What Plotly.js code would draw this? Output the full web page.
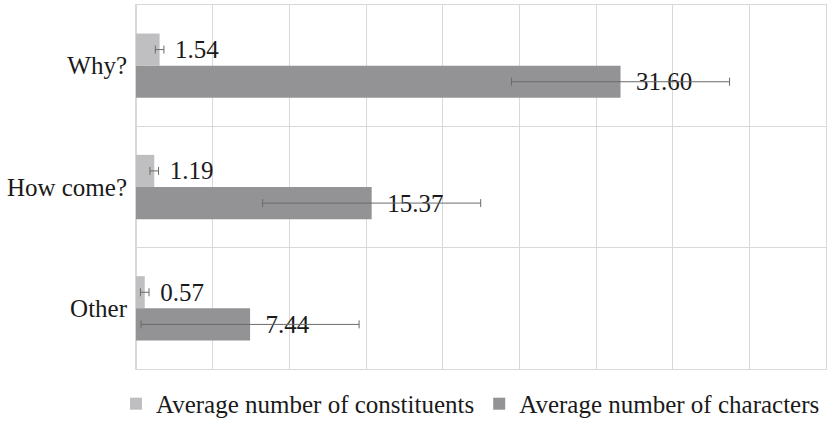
<!DOCTYPE html>
<html>
<head>
<meta charset="utf-8">
<script src="https://cdn.plot.ly/plotly-3.0.1.min.js"></script>
<style>
  html, body { margin: 0; padding: 0; background: #ffffff; }
  #chart { width: 835px; height: 425px; }
</style>
</head>
<body>
<div id="chart"></div>
<script>
var categories = ["Why?", "How come?", "Other"];
var constituents = [1.54, 1.19, 0.57];
var constituentsErr = [0.28, 0.28, 0.28];
var characters = [31.60, 15.37, 7.44];
var charactersErr = [7.11, 7.11, 7.11];
var seriesNames = ["Average number of constituents", "Average number of characters"];

function labels(vals) {
  return vals.map(function (v) { return "\u00A0\u00A0" + v.toFixed(2); });
}

var font = "Liberation Serif";

var traces = [
  {
    type: "bar", orientation: "h", name: seriesNames[0],
    y: categories, x: constituents,
    marker: { color: "#bfbfc1" },
    text: labels(constituents), textposition: "outside", constraintext: "none",
    cliponaxis: false,
    textfont: { family: font, size: 25, color: "#1a1a1a" },
    error_x: { type: "data", array: constituentsErr, visible: true, color: "#6b6b6b", thickness: 1, width: 4 },
    hoverinfo: "none"
  },
  {
    type: "bar", orientation: "h", name: seriesNames[1],
    y: categories, x: characters,
    marker: { color: "#939396" },
    text: labels(characters), textposition: "outside", constraintext: "none",
    cliponaxis: false,
    textfont: { family: font, size: 25, color: "#1a1a1a" },
    error_x: { type: "data", array: charactersErr, visible: true, color: "#6b6b6b", thickness: 1, width: 4 },
    hoverinfo: "none"
  }
];

var layout = {
  width: 835, height: 425,
  margin: { l: 136, r: 9, t: 5, b: 56, autoexpand: false },
  paper_bgcolor: "#ffffff", plot_bgcolor: "#ffffff",
  font: { family: font, size: 25, color: "#1a1a1a" },
  barmode: "group", bargap: 0.47, bargroupgap: 0,
  showlegend: true,
  legend: {
    orientation: "h", x: -0.029, xanchor: "left", y: -0.096, yanchor: "middle",
    font: { family: font, size: 25, color: "#1a1a1a" },
    itemwidth: 30, traceorder: "normal", itemclick: false
  },
  xaxis: {
    range: [0, 45], dtick: 5, showticklabels: false,
    showgrid: true, gridcolor: "#d9d9d9", gridwidth: 1,
    zeroline: true, zerolinecolor: "#d9d9d9", zerolinewidth: 1,
    showline: true, linecolor: "#d9d9d9", mirror: true, ticks: ""
  },
  yaxis: {
    type: "category", autorange: "reversed",
    tickson: "boundaries", showgrid: true, gridcolor: "#d9d9d9", gridwidth: 1,
    showline: true, linecolor: "#d9d9d9", mirror: true,
    ticks: "", ticklabelstandoff: 3,
    tickfont: { family: font, size: 25, color: "#1a1a1a" }
  }
};

Plotly.newPlot("chart", traces, layout, { displayModeBar: false, staticPlot: true });
</script>
</body>
</html>
